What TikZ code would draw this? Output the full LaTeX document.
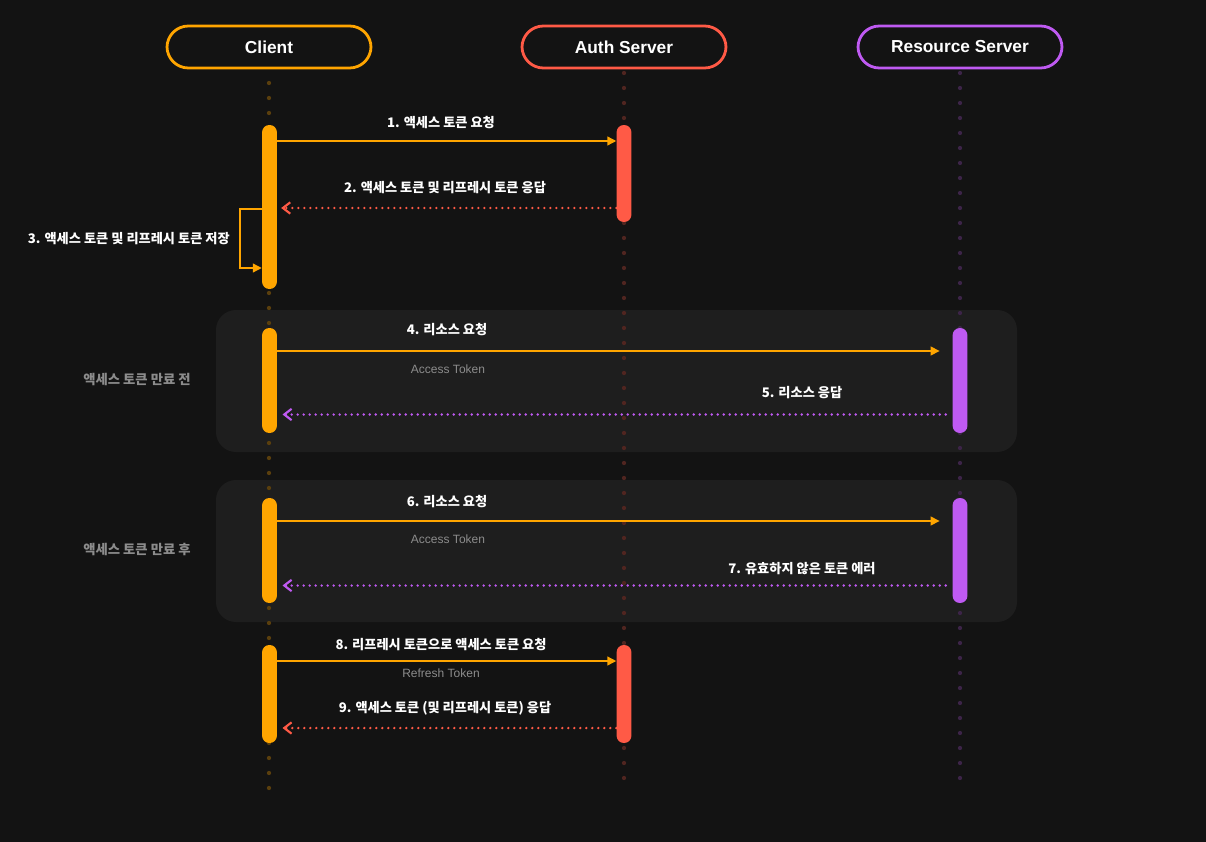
\documentclass[tikz,border=0pt]{standalone}
\usepackage{fontspec}
\setmainfont{Liberation Sans}
\newfontfamily\kr{Noto Sans CJK KR}
\usetikzlibrary{arrows.meta}
\definecolor{bg}{HTML}{131313}
\definecolor{grp}{HTML}{1E1E1E}
\definecolor{cor}{HTML}{FFA500}
\definecolor{cred}{HTML}{FF5A46}
\definecolor{cpur}{HTML}{BF5AF2}
\definecolor{txtgrey}{HTML}{8C8C8C}
\begin{document}
\begin{tikzpicture}[x=0.75pt,y=-0.75pt,
  head/.style={draw=#1, line width=2.1pt, rounded corners=16pt, minimum width=153pt, minimum height=31.5pt, inner sep=0pt, text=white, font=\fontsize{13}{15}\selectfont\bfseries},
  bar/.style={fill=#1, rounded corners=5.4pt, minimum width=11.1pt, inner sep=0pt},
  msg/.style={text=white, font=\kr\bfseries\fontsize{9.9}{12}\selectfont, inner sep=0pt},
  sub/.style={text=txtgrey, font=\fontsize{9}{11}\selectfont, inner sep=0pt},
  grplabel/.style={text=txtgrey, font=\kr\bfseries\fontsize{10}{12}\selectfont, inner sep=0pt},
  grpbox/.style={fill=grp, rounded corners=15pt},
  req/.style={draw=cor, line width=1.5pt, -{Triangle[length=6.75pt,width=6.5pt]}},
  resp/.style={draw=#1, line width=2pt, line cap=round, dash pattern=on 0pt off 4.5pt, -{Straight Barb[length=5.5pt,width=8.5pt,line width=1.6pt]}},
]
\useasboundingbox (0,0) rectangle (1206,842);
\fill[bg] (0,0) rectangle (1206,842);

% group boxes
\fill[grpbox] (216,310) rectangle (1017,452);
\fill[grpbox] (216,480) rectangle (1017,622);

% lifeline dots
\foreach \i in {0,...,47} {
  \fill[cor!30!bg] (269,83+15*\i) circle (1.6pt);
  \fill[cred!26!bg] (624,73+15*\i) circle (1.6pt);
  \fill[cpur!24!bg] (960,73+15*\i) circle (1.6pt);
}

% headers
\node[head=cor] (client) at (269,47) {Client};
\node[head=cred] (auth) at (624,47) {Auth Server};
\node[head=cpur] (res) at (960,47) {Resource Server};

% activation bars
\node[bar=cor, minimum height=123pt] (cb1) at (269.5,207) {};
\node[bar=cred, minimum height=72.75pt] (ab1) at (624,173.5) {};
\node[bar=cor, minimum height=78.75pt] (cb2) at (269.5,380.5) {};
\node[bar=cpur, minimum height=78.75pt] (rb2) at (960,380.5) {};
\node[bar=cor, minimum height=78.75pt] (cb3) at (269.5,550.5) {};
\node[bar=cpur, minimum height=78.75pt] (rb3) at (960,550.5) {};
\node[bar=cor, minimum height=73.5pt] (cb4) at (269.5,694) {};
\node[bar=cred, minimum height=73.5pt] (ab4) at (624,694) {};

% message levels
\coordinate (y1) at (0,141);
\coordinate (y2) at (0,208);
\coordinate (y3a) at (0,209);
\coordinate (y3b) at (0,268);
\coordinate (lp) at (240,239);
\coordinate (y4) at (0,351);
\coordinate (y5) at (0,414.5);
\coordinate (y6) at (0,521);
\coordinate (y7) at (0,585.5);
\coordinate (y8) at (0,661);
\coordinate (y9) at (0,728);

% connectors
\draw[req] (cb1.east |- y1) -- (ab1.west |- y1);
\draw[resp=cred, shorten >=3pt] (ab1.west |- y2) -- (cb1.east |- y2);
\draw[req, line width=1.5pt] (cb1.west |- y3a) -- (lp |- y3a) -- (lp |- y3b) -- (cb1.west |- y3b);
\draw[req, shorten >=9.5pt] (cb2.east |- y4) -- (rb2.west |- y4);
\draw[resp=cpur, shorten <=5pt, shorten >=4pt] (rb2.west |- y5) -- (cb2.east |- y5);
\draw[req, shorten >=9.5pt] (cb3.east |- y6) -- (rb3.west |- y6);
\draw[resp=cpur, shorten <=5pt, shorten >=4pt] (rb3.west |- y7) -- (cb3.east |- y7);
\draw[req] (cb4.east |- y8) -- (ab4.west |- y8);
\draw[resp=cred, shorten >=4pt] (ab4.west |- y9) -- (cb4.east |- y9);

% labels
\node[msg] (l1) at (441,123) {1. 액세스 토큰 요청};
\node[msg] (l2) at (445,188) {2. 액세스 토큰 및 리프레시 토큰 응답};
\node[msg, anchor=east] (l3) at (230,239) {3. 액세스 토큰 및 리프레시 토큰 저장};
\node[msg] (l4) at (447,330) {4. 리소스 요청};
\node[sub] (t4) at (448,369) {Access Token};
\node[msg] (l5) at (802,393) {5. 리소스 응답};
\node[msg] (l6) at (447,502) {6. 리소스 요청};
\node[sub] (t6) at (448,539) {Access Token};
\node[msg] (l7) at (802,569) {7. 유효하지 않은 토큰 에러};
\node[msg] (l8) at (441,645) {8. 리프레시 토큰으로 액세스 토큰 요청};
\node[sub] (t8) at (441,673) {Refresh Token};
\node[msg] (l9) at (445,708) {9. 액세스 토큰 (및 리프레시 토큰) 응답};
\node[grplabel] (g1) at (137,380) {액세스 토큰 만료 전};
\node[grplabel] (g2) at (137,550) {액세스 토큰 만료 후};
\end{tikzpicture}
\end{document}
